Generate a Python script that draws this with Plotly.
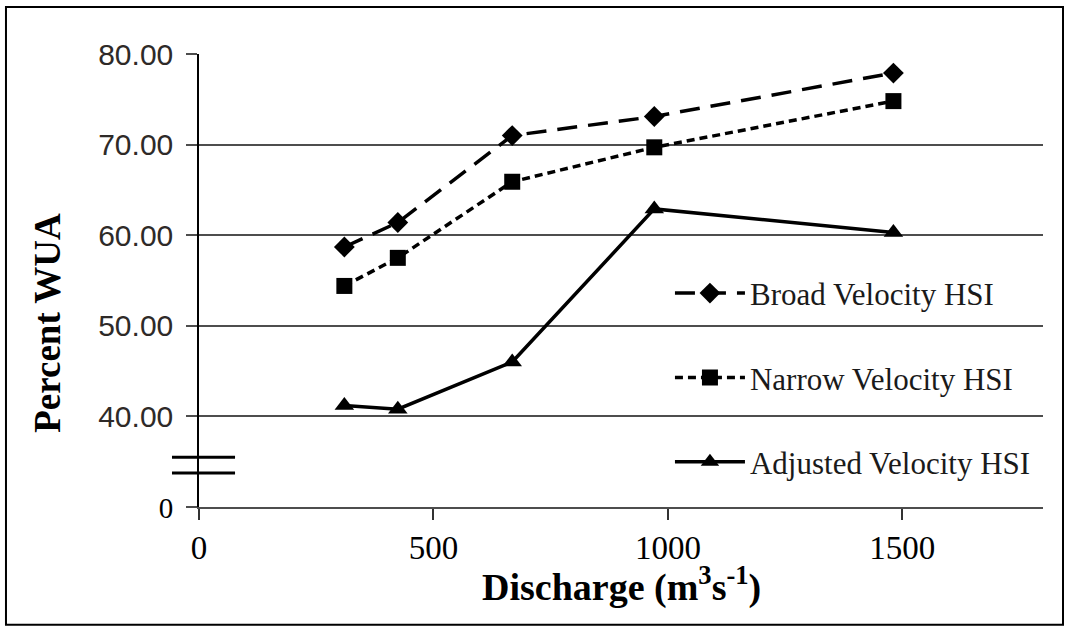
import plotly.graph_objects as go

# Discharge values (m3/s) and percent weighted usable area for each HSI curve
discharge = [310, 424, 668, 971, 1481]
broad_hsi = [58.7, 61.4, 71.0, 73.1, 77.9]
narrow_hsi = [54.4, 57.5, 65.9, 69.7, 74.8]
adjusted_hsi = [41.2, 40.8, 46.0, 62.9, 60.3]

series_names = ["Broad Velocity HSI", "Narrow Velocity HSI", "Adjusted Velocity HSI"]

SERIF = "Liberation Serif, Times New Roman, Times, serif"

# Y axis is broken: the bottom position stands for 0, then 40..80
y_tick_vals = [30, 40, 50, 60, 70, 80]
y_tick_text = ["<span style=\"font-family:'Liberation Serif',serif;font-size:29px;color:black\">0</span>",
               "40.00", "50.00", "60.00", "70.00", "80.00"]
x_tick_vals = [0, 500, 1000, 1500]
break_marks = [35.5, 33.75]

fig = go.Figure()

fig.add_trace(go.Scatter(
    x=discharge, y=broad_hsi, name=series_names[0], mode="lines+markers",
    legendgroup="a",
    line=dict(color="black", width=3.5, dash="20px,11px"),
    marker=dict(symbol="diamond", size=16, color="black"),
))
fig.add_trace(go.Scatter(
    x=discharge, y=narrow_hsi, name=series_names[1], mode="lines+markers",
    legendgroup="b",
    line=dict(color="black", width=3.5, dash="8px,5px"),
    marker=dict(symbol="square", size=16, color="black"),
))
fig.add_trace(go.Scatter(
    x=discharge, y=adjusted_hsi, name=series_names[2], mode="lines+markers",
    legendgroup="c",
    line=dict(color="black", width=3.5),
    marker=dict(symbol="triangle-up", size=17, color="black"),
))

# outer frame around the whole figure
fig.add_shape(type="rect", xref="paper", yref="paper",
              x0=-0.2287, x1=1.0237, y0=-0.2597, y1=1.1039,
              line=dict(color="black", width=2), layer="above")

# axis break marks
for yb in break_marks:
    fig.add_shape(type="line", xref="paper", yref="y",
                  x0=-0.032, x1=0.0427, y0=yb, y1=yb,
                  line=dict(color="black", width=3), layer="above")

# axis titles
fig.add_annotation(text="<b>Percent WUA</b>", xref="paper", yref="paper",
                   x=(25 - 199) / 844, y=(506.5 - 323) / 452.5,
                   textangle=-90, showarrow=False,
                   font=dict(family=SERIF, size=37, color="black"))
fig.add_annotation(text="<b>Discharge (m<sup>3</sup>s<sup>-1</sup>)</b>",
                   xref="paper", yref="paper", x=0.5, y=(506.5 - 584) / 452.5,
                   xanchor="center", yanchor="middle", showarrow=False,
                   font=dict(family=SERIF, size=38, color="black"))

fig.update_layout(
    width=1070, height=631,
    margin=dict(l=199, r=27, t=54, b=124, pad=0),
    paper_bgcolor="white", plot_bgcolor="white",
    showlegend=True,
    legend=dict(
        x=0.558, y=0.531, xanchor="left", yanchor="top",
        bgcolor="rgba(0,0,0,0)", borderwidth=0,
        font=dict(family=SERIF, size=31, color="#1a1a1a"),
        traceorder="grouped", tracegroupgap=41, itemwidth=70,
    ),
    xaxis=dict(
        range=[0, 1800], tickvals=x_tick_vals,
        ticks="outside", ticklen=11, tickwidth=1.5, tickcolor="#333",
        showline=True, linecolor="#4d4d4d", linewidth=1.5,
        showgrid=False, zeroline=False,
        tickfont=dict(family=SERIF, size=33, color="black"),
    ),
    yaxis=dict(
        range=[30, 80], tickvals=y_tick_vals, ticktext=y_tick_text,
        ticks="outside", ticklen=11, tickwidth=1.5, tickcolor="#4d4d4d",
        ticklabelstandoff=7,
        showline=True, linecolor="black", linewidth=1.5,
        showgrid=True, gridcolor="#4d4d4d", gridwidth=1.5,
        zeroline=False,
        tickfont=dict(family="Liberation Sans, Arial, sans-serif", size=30, color="#2e2a28"),
    ),
)

fig.write_html("out.html")
